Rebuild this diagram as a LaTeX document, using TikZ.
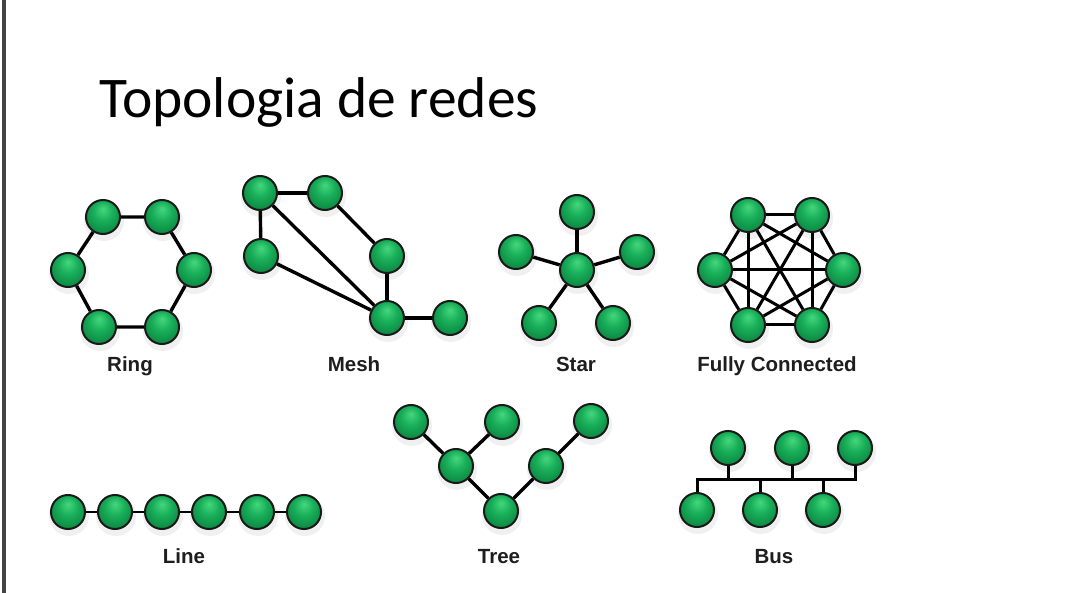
\documentclass[tikz,border=0pt]{standalone}
\usepackage{fontspec}
\setmainfont{Carlito}
\newfontfamily\labelfont{Liberation Sans}
\usetikzlibrary{backgrounds}
\definecolor{ballhi}{RGB}{70,215,125}
\definecolor{ballmid}{RGB}{25,175,90}
\definecolor{balllo}{RGB}{8,125,58}
\definecolor{balldark}{RGB}{0,75,32}
\definecolor{barcol}{RGB}{68,68,68}
\definecolor{labcol}{RGB}{30,30,30}
\pgfdeclareradialshading{greenball}{\pgfpoint{0bp}{12bp}}{color(0bp)=(ballhi); color(14bp)=(ballmid); color(34bp)=(balllo); color(50bp)=(balldark)}
\tikzset{
  pc/.style={circle, minimum size=34pt, inner sep=0pt, draw=black!90, line width=2pt, shading=greenball},
  link/.style={draw=black, line width=3.4pt},
  toplabel/.style={font=\labelfont\bfseries\fontsize{20.5}{24}\selectfont, text=labcol, anchor=base, inner sep=0pt},
}
\begin{document}
\begin{tikzpicture}[x=1pt, y=-1pt]
\useasboundingbox (0,0) rectangle (1071,593);
\node[anchor=base west, inner sep=0pt, font=\fontsize{57.5}{62}\selectfont] (title) at (99,118) {Topologia de redes};

% Ring
\node[pc] (r1) at (103,217) {};
\node[pc] (r2) at (162,217) {};
\node[pc] (r3) at (194,270) {};
\node[pc] (r4) at (162,327) {};
\node[pc] (r5) at (99,327) {};
\node[pc] (r6) at (68,270) {};
\node[toplabel] (lring) at (130,372) {Ring};

% Mesh
\node[pc] (m1) at (260,193) {};
\node[pc] (m2) at (325,193) {};
\node[pc] (m3) at (261,256) {};
\node[pc] (m4) at (387,256) {};
\node[pc] (m5) at (387,318) {};
\node[pc] (m6) at (450,318) {};
\node[toplabel] (lmesh) at (354,372) {Mesh};

% Star
\node[pc] (s0) at (577,270) {};
\node[pc] (s1) at (577,212) {};
\node[pc] (s2) at (516,252) {};
\node[pc] (s3) at (637,252) {};
\node[pc] (s4) at (539,323) {};
\node[pc] (s5) at (613,323) {};
\node[toplabel] (lstar) at (576,372) {Star};

% Fully connected
\node[pc] (f1) at (748,215) {};
\node[pc] (f2) at (812,215) {};
\node[pc] (f3) at (843,270) {};
\node[pc] (f4) at (812,325) {};
\node[pc] (f5) at (748,325) {};
\node[pc] (f6) at (715,270) {};
\node[toplabel] (lfull) at (777,372) {Fully Connected};

% Line
\node[pc] (l1) at (68,512) {};
\node[pc] (l2) at (115,512) {};
\node[pc] (l3) at (162,512) {};
\node[pc] (l4) at (209,512) {};
\node[pc] (l5) at (257,512) {};
\node[pc] (l6) at (304,512) {};
\node[toplabel] (lline) at (184,563) {Line};

% Tree
\node[pc] (t1) at (411,422) {};
\node[pc] (t2) at (502,422) {};
\node[pc] (t3) at (591,421) {};
\node[pc] (t4) at (456,466) {};
\node[pc] (t5) at (546,466) {};
\node[pc] (t6) at (501,511) {};
\node[toplabel] (ltree) at (499,563) {Tree};

% Bus
\node[pc] (bt1) at (728,448) {};
\node[pc] (bt2) at (792,448) {};
\node[pc] (bt3) at (855,448) {};
\node[pc] (bb1) at (697,510) {};
\node[pc] (bb2) at (760,510) {};
\node[pc] (bb3) at (823,510) {};
\coordinate (busL) at (697,479);
\coordinate (busR) at (855,479);
\node[toplabel] (lbus) at (774,563) {Bus};

\begin{pgfonlayer}{background}
  \fill[white] (0,0) rectangle (1071,593);
  \fill[barcol] (2,0) rectangle (6,593);
  % soft shadows
  \foreach \n in {r1,r2,r3,r4,r5,r6,m1,m2,m3,m4,m5,m6,s0,s1,s2,s3,s4,s5,f1,f2,f3,f4,f5,f6,l1,l2,l3,l4,l5,l6,t1,t2,t3,t4,t5,t6,bt1,bt2,bt3,bb1,bb2,bb3}
    \fill[black, opacity=0.06] ([shift={(1,4)}]\n.center) circle (20pt);
  % ring
  \draw[link, line join=round] (r1) -- (r2) -- (r3) -- (r4) -- (r5) -- (r6) -- (r1);
  % mesh
  \draw[link] (m1) -- (m2);
  \draw[link] (m1) -- (m3);
  \draw[link] (m1) -- (m5);
  \draw[link] (m3) -- (m5);
  \draw[link] (m2) -- (m4);
  \draw[link] (m4) -- (m5);
  \draw[link] (m5) -- (m6);
  % star
  \foreach \n in {s1,s2,s3,s4,s5} \draw[link] (s0) -- (\n);
  % fully connected
  \foreach \a/\b in {f1/f2,f1/f3,f1/f4,f1/f5,f1/f6,f2/f3,f2/f4,f2/f5,f2/f6,f3/f4,f3/f5,f3/f6,f4/f5,f4/f6,f5/f6}
    \draw[link, line width=3pt] (\a) -- (\b);
  % line
  \draw[link, line width=2.8pt] (l1) -- (l2) -- (l3) -- (l4) -- (l5) -- (l6);
  % tree
  \draw[link] (t1) -- (t4);
  \draw[link] (t2) -- (t4);
  \draw[link] (t4) -- (t6);
  \draw[link] (t6) -- (t5);
  \draw[link] (t5) -- (t3);
  % bus
  \draw[link, line width=3pt] (bb1) -- (busL) -- (busR) -- (bt3);
  \draw[link, line width=3pt] (bt1) -- (bt1 |- busL);
  \draw[link, line width=3pt] (bt2) -- (bt2 |- busL);
  \draw[link, line width=3pt] (bb2) -- (bb2 |- busL);
  \draw[link, line width=3pt] (bb3) -- (bb3 |- busL);
\end{pgfonlayer}
\end{tikzpicture}
\end{document}
